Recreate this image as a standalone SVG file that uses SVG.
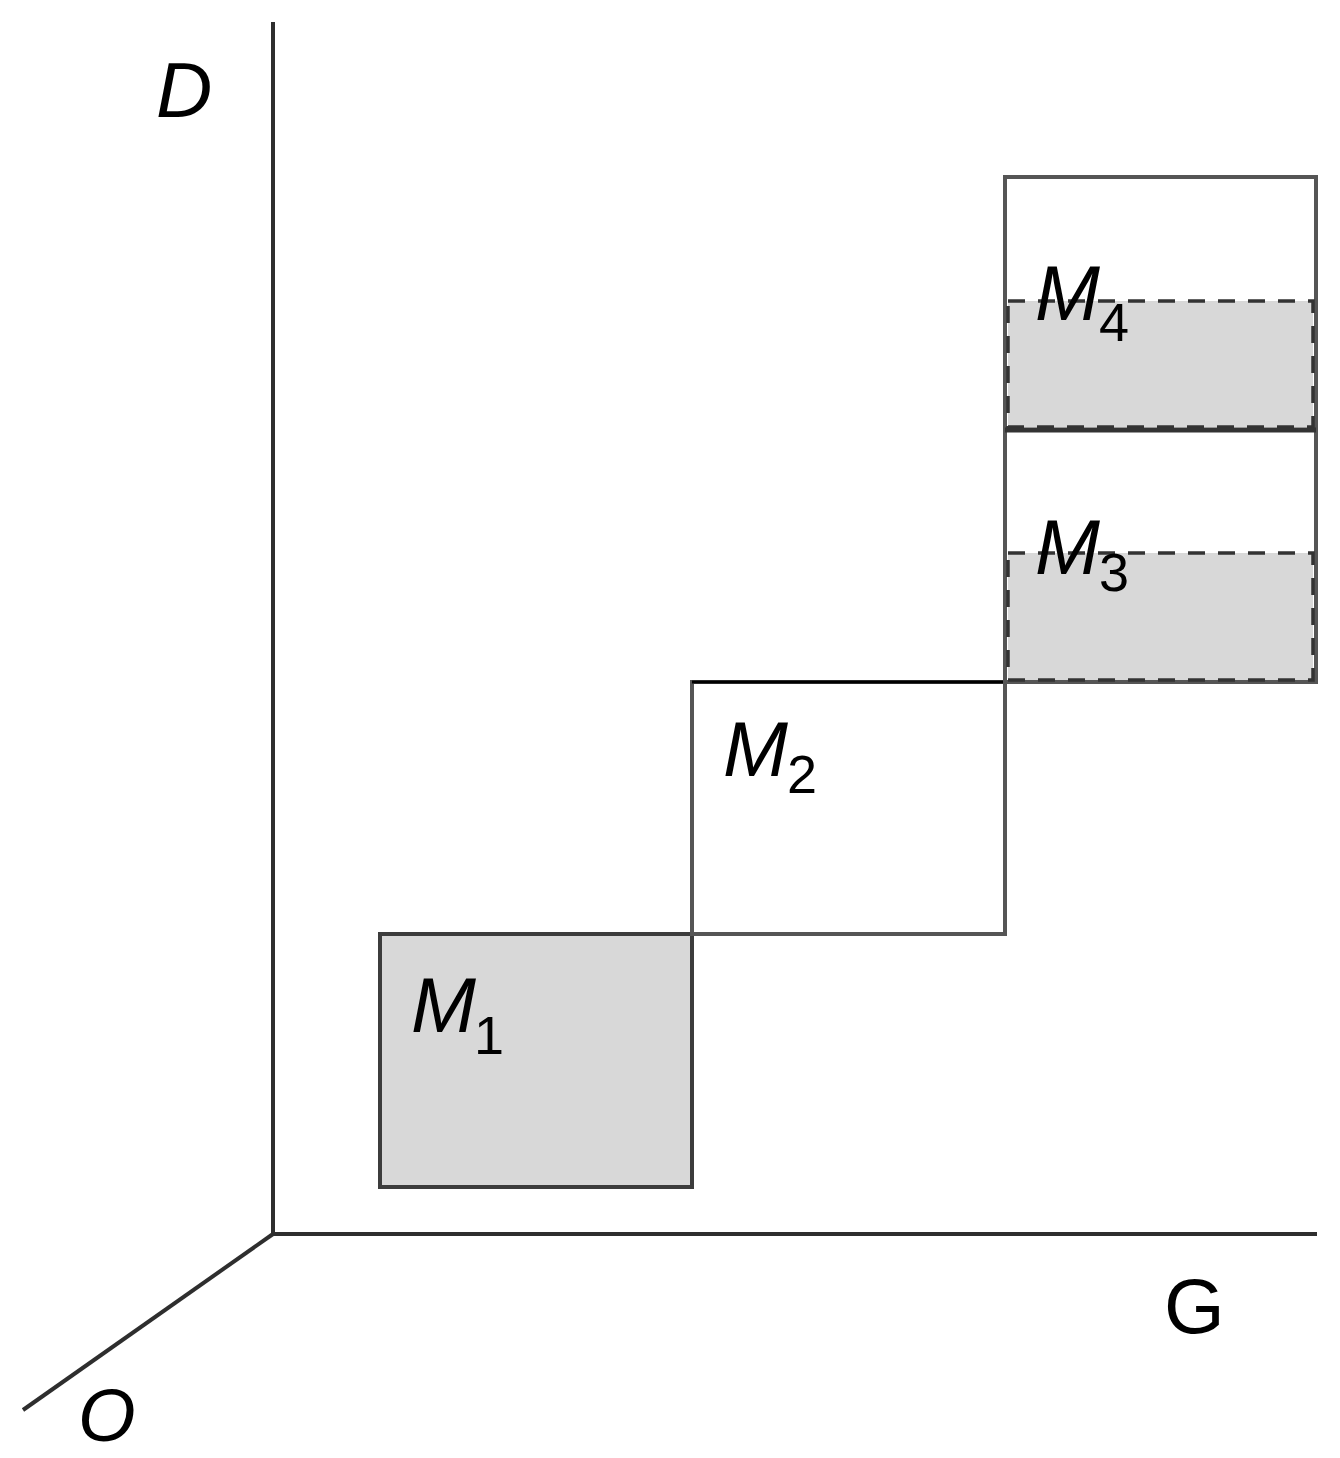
<svg xmlns="http://www.w3.org/2000/svg" width="1340" height="1458" viewBox="0 0 1340 1458">
<style>
.box{fill:#ffffff;stroke:#555555;stroke-width:4}
.filled{fill:#d8d8d8;stroke:#3c3c3c;stroke-width:4}
.dash{fill:#d8d8d8;stroke:#333333;stroke-width:3.5;stroke-dasharray:17 13}
.axis{stroke:#2e2e2e;stroke-width:4;fill:none}
.lbl{font-family:"Liberation Sans",Arial,sans-serif;font-style:italic;font-size:78px;fill:#000}
.ax{font-family:"Liberation Sans",Arial,sans-serif;font-size:78px;fill:#000}
.sub{font-family:"Liberation Sans",Arial,sans-serif;font-size:54px;fill:#000}
</style>
<rect width="1340" height="1458" fill="#ffffff"/>
<g id="axes">
<line class="axis" x1="273" y1="22" x2="273" y2="1234"/>
<line class="axis" x1="273" y1="1234" x2="1317" y2="1234"/>
<line class="axis" x1="273" y1="1234" x2="23" y2="1410"/>
<text class="lbl" x="78" y="1441" style="font-size:74px">O</text>
<text class="lbl" x="156" y="117">D</text>
<text class="ax" x="1164" y="1333">G</text>
</g>
<g id="M1">
<rect class="filled" x="380" y="934" width="312" height="253"/>
<text class="lbl" x="411" y="1032">M</text>
<text class="sub" x="474" y="1054">1</text>
</g>
<g id="M2">
<rect class="box" x="692" y="682" width="313" height="252" style="fill:none"/>
<line x1="692" y1="682" x2="1005" y2="682" stroke="#000" stroke-width="3"/>
<text class="lbl" x="723" y="776">M</text>
<text class="sub" x="787" y="793">2</text>
</g>
<g id="M3">
<rect class="box" x="1005" y="430" width="311" height="252"/>
<rect class="dash" x="1008" y="553" width="305" height="127"/>
<text class="lbl" x="1035" y="574">M</text>
<text class="sub" x="1099" y="591">3</text>
</g>
<g id="M4">
<rect class="box" x="1005" y="177" width="311" height="253"/>
<rect class="dash" x="1008" y="301" width="305" height="126"/>
<line x1="1005" y1="430" x2="1316" y2="430" stroke="#333" stroke-width="5"/>
<text class="lbl" x="1035" y="320">M</text>
<text class="sub" x="1099" y="341">4</text>
</g>
</svg>
